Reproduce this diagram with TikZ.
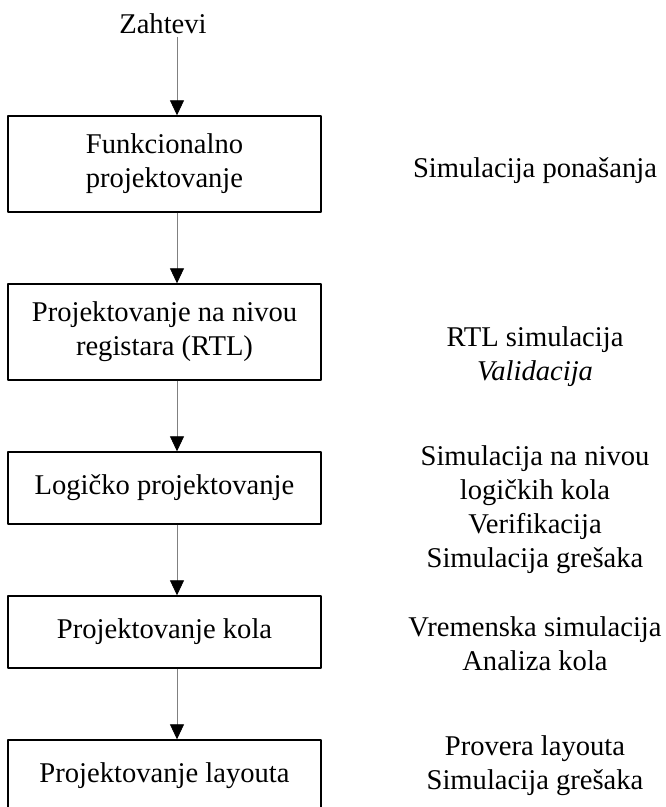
\documentclass[tikz,border=0pt]{standalone}
\usepackage{fontspec}
\setmainfont{Liberation Serif}
\usetikzlibrary{arrows.meta}
\begin{document}
\begin{tikzpicture}[x=1pt, y=-1pt, line join=round,
	font=\fontsize{28.6}{34}\selectfont,
	box/.style={draw, line width=1.4pt, minimum width=313pt, align=center},
	note/.style={align=center},
	flow/.style={draw=gray, line width=0.8pt,
		-{Triangle[width=14pt, length=15pt, color=black]}}]
	\useasboundingbox (0,0) rectangle (666,807);
	\path (177,0) coordinate (ax);
	% boxes
	\node[anchor=base] (req) at (163,33) {Zahtevi};
	\node[box, minimum height=96pt] (fp) at (164.5,164) {Funkcionalno\\projektovanje};
	\node[box, minimum height=96pt] (rtl) at (164.5,332) {Projektovanje na nivou\\registara (RTL)};
	\node[box, minimum height=72pt] (lp) at (164.5,488) {Logičko projektovanje};
	\node[box, minimum height=72pt] (pk) at (164.5,632) {Projektovanje kola};
	\node[box, minimum height=72pt] (pl) at (164.5,776) {Projektovanje layouta};
	% notes
	\node[note] (sfp) at (535,171) {Simulacija ponašanja};
	\node[note] (srtl) at (535,357) {RTL simulacija\\\textit{Validacija}};
	\node[note] (slp) at (535,510) {Simulacija na nivou\\logičkih kola\\Verifikacija\\Simulacija grešaka};
	\node[note] (spk) at (535,644) {Vremenska simulacija\\Analiza kola};
	\node[note] (spl) at (535,766) {Provera layouta\\Simulacija grešaka};
	% arrows
	\foreach \a/\b in {req/fp,fp/rtl,rtl/lp,lp/pk,pk/pl}
	\draw[flow] (\a.south -| ax) -- (\b.north -| ax);
\end{tikzpicture}
\end{document}
